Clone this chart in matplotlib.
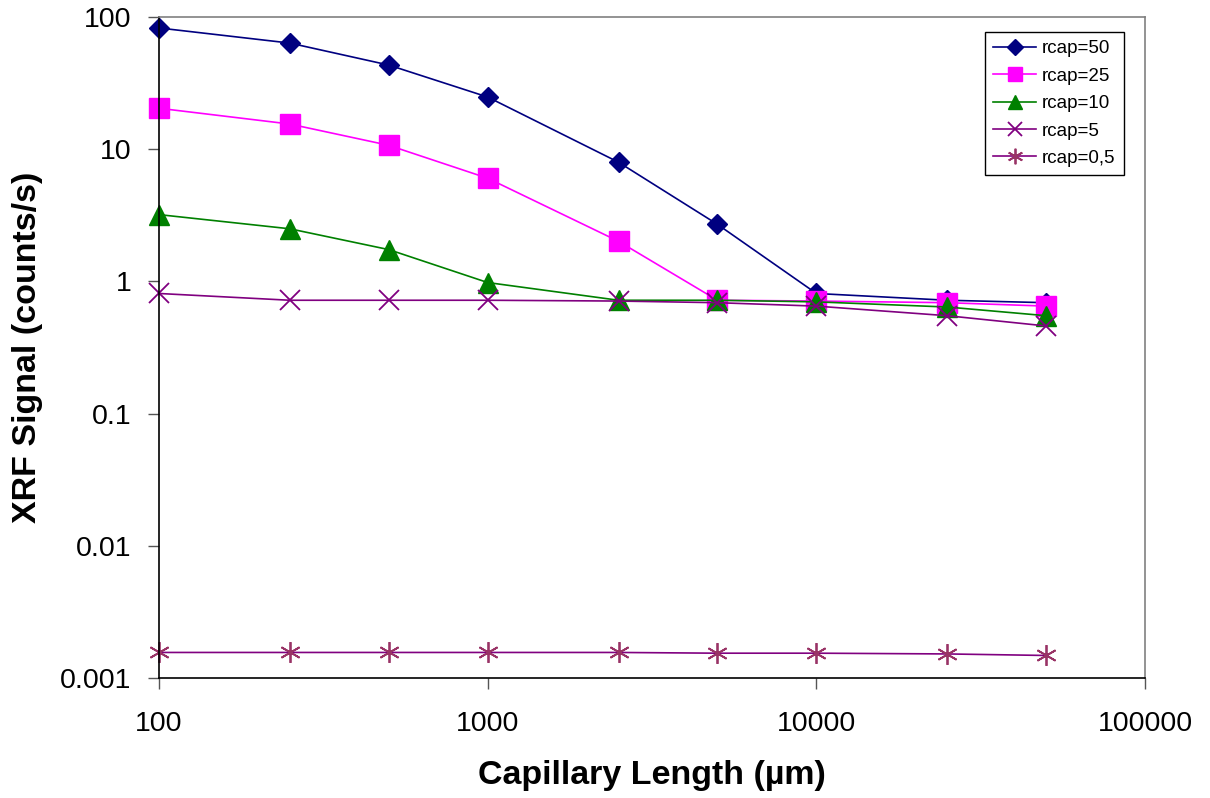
import matplotlib.pyplot as plt

plt.rcParams['font.family'] = ['Liberation Sans', 'DejaVu Sans']

# capillary length (um)
length = [100, 250, 500, 1000, 2500, 5000, 10000, 25000, 50000]

# XRF signal (counts/s) for each capillary radius
rcap50 = [82.6, 63.5, 43.3, 24.8, 7.97, 2.70, 0.81, 0.72, 0.69]
rcap25 = [20.4, 15.5, 10.7, 6.03, 2.01, 0.72, 0.71, 0.69, 0.65]
rcap10 = [3.2, 2.5, 1.74, 0.98, 0.72, 0.72, 0.70, 0.64, 0.55]
rcap5 = [0.81, 0.72, 0.72, 0.72, 0.71, 0.69, 0.65, 0.55, 0.46]
rcap05 = [0.00156, 0.00156, 0.00156, 0.00156, 0.00156, 0.00154, 0.00154, 0.00152, 0.00148]

fig = plt.figure(figsize=(12.1, 7.98), dpi=100)
ax = fig.add_axes([0.1314, 0.1504, 0.815, 0.8283])

ax.plot(length, rcap50, color='#000080', lw=1.2, marker='D', ms=10.5,
        mfc='#000080', mec='#000080', label='rcap=50', clip_on=False)
ax.plot(length, rcap25, color='#FF00FF', lw=1.2, marker='s', ms=14,
        mfc='#FF00FF', mec='#FF00FF', label='rcap=25', clip_on=False)
ax.plot(length, rcap10, color='#008000', lw=1.2, marker='^', ms=14,
        mfc='#008000', mec='#008000', label='rcap=10', clip_on=False)
ax.plot(length, rcap5, color='#800080', lw=1.2, marker='x', ms=14,
        mew=1.3, mec='#800080', label='rcap=5', clip_on=False)
ax.plot(length, rcap05, color='#800080', lw=1.2, marker=(6, 2, 0), ms=15,
        mew=1.3, mec='#993366', label='rcap=0,5', clip_on=False)

ax.set_xscale('log')
ax.set_yscale('log')
ax.set_xlim(100, 100000)
ax.set_ylim(0.001, 100)
ax.set_xticks([100, 1000, 10000, 100000])
ax.set_xticklabels(['100', '1000', '10000', '100000'])
ax.set_yticks([0.001, 0.01, 0.1, 1, 10, 100])
ax.set_yticklabels(['0.001', '0.01', '0.1', '1', '10', '100'])
ax.minorticks_off()
ax.tick_params(labelsize=20.5, length=8, width=1, color='#555555')
ax.tick_params(axis='x', pad=16)
ax.tick_params(axis='y', pad=12)

ax.spines['top'].set_color('#808080')
ax.spines['right'].set_color('#808080')
ax.spines['left'].set_color('black')
ax.spines['bottom'].set_color('black')
for s in ax.spines.values():
    s.set_linewidth(1.2)

ax.set_xlabel('Capillary Length (µm)', fontsize=24.5, fontweight='bold', labelpad=16)
ax.set_ylabel('XRF Signal (counts/s)', fontsize=24.5, fontweight='bold', labelpad=12)

leg = ax.legend(loc='upper right', bbox_to_anchor=(0.988, 0.992), fontsize=13.5,
                markerscale=0.75, fancybox=False, framealpha=1, edgecolor='black',
                handlelength=2.3, labelspacing=0.55, borderpad=0.45, handletextpad=0.3)
leg.get_frame().set_linewidth(1.0)

fig.savefig('out.png', dpi=100)
